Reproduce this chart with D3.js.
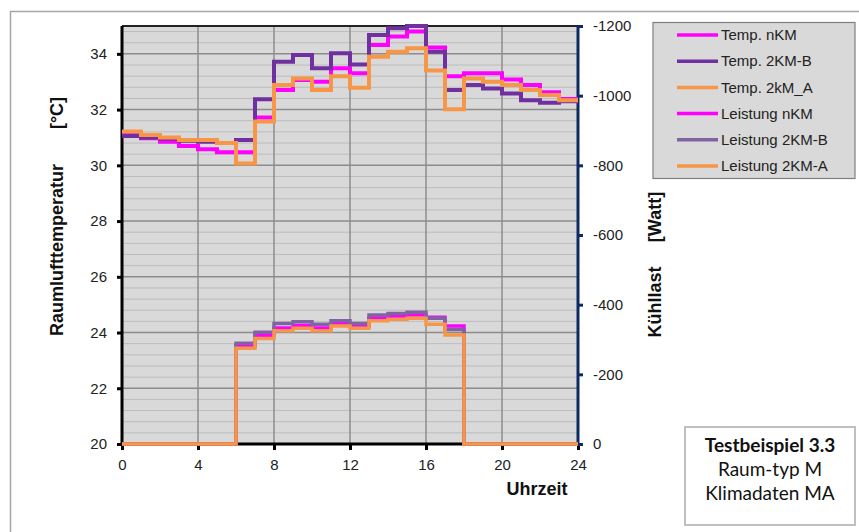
<!DOCTYPE html>
<html>
<head>
<meta charset="utf-8">
<script src="https://cdn.jsdelivr.net/npm/d3@7"></script>
<style>
  body { margin: 0; background: #fff; }
  text { font-family: "Liberation Sans", Arial, sans-serif; }
</style>
</head>
<body>
<svg id="chart" width="859" height="532"></svg>
<script>
// hourly values, hour 0..23 (step after)
const tempNKM  = [31.1, 30.97, 30.85, 30.69, 30.58, 30.47, 30.47, 31.72, 32.7, 33.06, 33.0, 33.48,
                  33.3, 34.32, 34.62, 34.8, 34.23, 33.2, 33.3, 33.3, 33.08, 32.88, 32.62, 32.38];
const temp2KMB = [31.05, 31.0, 30.95, 30.88, 30.85, 30.8, 30.91, 32.37, 33.72, 33.96, 33.48, 34.02,
                  33.62, 34.68, 34.92, 35.0, 34.08, 32.7, 32.88, 32.76, 32.58, 32.34, 32.25, 32.3];
const temp2KMA = [31.21, 31.09, 31.0, 30.91, 30.91, 30.8, 30.07, 31.57, 32.88, 33.12, 32.7, 33.2,
                  32.78, 33.9, 34.08, 34.2, 33.4, 32.01, 33.12, 33.0, 32.88, 32.7, 32.52, 32.34];
const powNKM   = [0, 0, 0, 0, 0, 0, -282, -312, -333, -340, -333, -345,
                  -338, -362, -367, -370, -364, -339, 0, 0, 0, 0, 0, 0];
const pow2KMB  = [0, 0, 0, 0, 0, 0, -289, -321, -346, -351, -344, -354,
                  -346, -370, -375, -378, -361, -329, 0, 0, 0, 0, 0, 0];
const pow2KMA  = [0, 0, 0, 0, 0, 0, -275, -303, -325, -332, -325, -339,
                  -332, -354, -358, -361, -344, -313, 0, 0, 0, 0, 0, 0];

const hourTicks = [0, 4, 8, 12, 16, 20, 24];
const tempTicks = [20, 22, 24, 26, 28, 30, 32, 34];
const powTicks  = [0, -200, -400, -600, -800, -1000, -1200];

const series = [
  { name: "Temp. nKM",       values: tempNKM,  axis: "T", color: "#ff00ff", width: 4 },
  { name: "Temp. 2KM-B",     values: temp2KMB, axis: "T", color: "#7030a0", width: 4 },
  { name: "Temp. 2kM_A",     values: temp2KMA, axis: "T", color: "#f79646", width: 4 },
  { name: "Leistung nKM",    values: powNKM,   axis: "W", color: "#ff00ff", width: 3.5 },
  { name: "Leistung 2KM-B",  values: pow2KMB,  axis: "W", color: "#8064a2", width: 3.5 },
  { name: "Leistung 2KM-A",  values: pow2KMA,  axis: "W", color: "#f79646", width: 3.5 }
];

const svg = d3.select("#chart");
const L = 122, R = 578, T = 26, B = 444;

const x  = d3.scaleLinear().domain([0, 24]).range([L, R]);
const yT = d3.scaleLinear().domain([20, 35]).range([B, T]);
const yW = d3.scaleLinear().domain([0, -1200]).range([B, T]);

// outer frame
svg.append("rect").attr("x", 10.5).attr("y", 11.5).attr("width", 900).attr("height", 600)
  .attr("fill", "#fff").attr("stroke", "#a6a6a6").attr("stroke-width", 1.5);

// plot background
svg.append("rect").attr("x", L).attr("y", T).attr("width", R - L).attr("height", B - T)
  .attr("fill", "#d9d9d9");

// minor horizontal grid (0.4 °C)
const minor = d3.range(20.4, 35, 0.4).filter(v => Math.abs(v / 2 - Math.round(v / 2)) > 0.01);
svg.append("g").selectAll("line").data(minor).join("line")
  .attr("x1", L).attr("x2", R).attr("y1", d => yT(d)).attr("y2", d => yT(d))
  .attr("stroke", "#bcbcbc").attr("stroke-width", 1);

// major grid
svg.append("g").selectAll("line").data(tempTicks.slice(1)).join("line")
  .attr("x1", L).attr("x2", R).attr("y1", d => yT(d)).attr("y2", d => yT(d))
  .attr("stroke", "#8c8c8c").attr("stroke-width", 1.5);
svg.append("g").selectAll("line").data(hourTicks.slice(1, -1)).join("line")
  .attr("x1", d => x(d)).attr("x2", d => x(d)).attr("y1", T).attr("y2", B)
  .attr("stroke", "#8c8c8c").attr("stroke-width", 1.5);

// top border
svg.append("line").attr("x1", L).attr("x2", R).attr("y1", T).attr("y2", T)
  .attr("stroke", "#222").attr("stroke-width", 2);

// axes
const xAxis = svg.append("g").attr("transform", `translate(0,${B})`)
  .call(d3.axisBottom(x).tickValues(hourTicks).tickSize(6).tickPadding(9).tickFormat(d => d));
const leftAxis = svg.append("g").attr("transform", `translate(${L},0)`)
  .call(d3.axisLeft(yT).tickValues(tempTicks).tickSize(5).tickPadding(10).tickFormat(d => d));
const rightAxis = svg.append("g").attr("transform", `translate(${R},0)`)
  .call(d3.axisRight(yW).tickValues(powTicks).tickSize(5).tickPadding(10).tickFormat(d => d));

[xAxis, leftAxis].forEach(g => {
  g.select(".domain").attr("stroke", "#000").attr("stroke-width", 3);
  g.selectAll(".tick line").attr("stroke", "#000").attr("stroke-width", 3);
});
rightAxis.select(".domain").attr("stroke", "#0e2a66").attr("stroke-width", 3);
rightAxis.selectAll(".tick line").attr("stroke", "#0e2a66").attr("stroke-width", 3);
[xAxis, leftAxis, rightAxis].forEach(g => {
  g.selectAll(".tick text").attr("fill", "#222").style("font-size", "15px")
    .style("font-family", '"Liberation Sans", Arial, sans-serif');
});
xAxis.selectAll(".domain").attr("d", `M${L},0H${R}`);
leftAxis.selectAll(".domain").attr("d", `M0,${B}V${T}`);
rightAxis.selectAll(".domain").attr("d", `M0,${B}V${T}`);

// lines
svg.append("clipPath").attr("id", "clip").append("rect")
  .attr("x", L - 2).attr("y", T - 2).attr("width", R - L + 4).attr("height", B - T + 4);

const plot = svg.append("g").attr("clip-path", "url(#clip)");
series.forEach(s => {
  const y = s.axis === "T" ? yT : yW;
  const pts = s.values.map((v, i) => [i, v]).concat([[24, s.values[23]]]);
  const line = d3.line().x(d => x(d[0])).y(d => y(d[1])).curve(d3.curveStepAfter);
  plot.append("path").datum(pts).attr("d", line)
    .attr("fill", "none").attr("stroke", s.color).attr("stroke-width", s.width)
    .attr("stroke-linejoin", "miter").attr("stroke-linecap", "butt");
});

// axis titles
const title = (txt, cx, cy) => svg.append("text")
  .attr("transform", `translate(${cx},${cy}) rotate(-90)`)
  .attr("text-anchor", "middle").attr("dy", "0.35em")
  .style("font-size", "18px").style("font-weight", "bold").attr("fill", "#111").text(txt);
title("Raumlufttemperatur", 57, 250);
title("[°C]", 57, 113);
title("Kühllast", 655, 302);
title("[Watt]", 655, 217);

svg.append("text").attr("x", 537).attr("y", 495).attr("text-anchor", "middle")
  .style("font-size", "18px").style("font-weight", "bold").attr("fill", "#111").text("Uhrzeit");

// legend
const lg = svg.append("g");
lg.append("rect").attr("x", 653).attr("y", 22.5).attr("width", 202).attr("height", 156)
  .attr("fill", "#d9d9d9").attr("stroke", "#7f7f7f").attr("stroke-width", 1.2);
series.forEach((s, i) => {
  const yy = 35 + i * 26.2;
  lg.append("line").attr("x1", 677).attr("x2", 718).attr("y1", yy).attr("y2", yy)
    .attr("stroke", s.color).attr("stroke-width", 3.5);
  lg.append("text").attr("x", 721).attr("y", yy).attr("dy", "0.35em")
    .style("font-size", "15px").attr("fill", "#222").text(s.name);
});

// info box
const ib = svg.append("g");
ib.append("rect").attr("x", 685).attr("y", 427).attr("width", 170).attr("height", 98)
  .attr("fill", "#fff").attr("stroke", "#bfbfbf").attr("stroke-width", 2);
[["Testbeispiel 3.3", "bold", 452], ["Raum-typ M", "normal", 476], ["Klimadaten MA", "normal", 500]]
  .forEach(([t, w, yy]) => ib.append("text").attr("x", 770).attr("y", yy).attr("text-anchor", "middle")
    .style("font-family", "Lato, 'Open Sans', sans-serif").style("font-size", "19px")
    .style("font-weight", w).attr("fill", "#111").text(t));
</script>
</body>
</html>
